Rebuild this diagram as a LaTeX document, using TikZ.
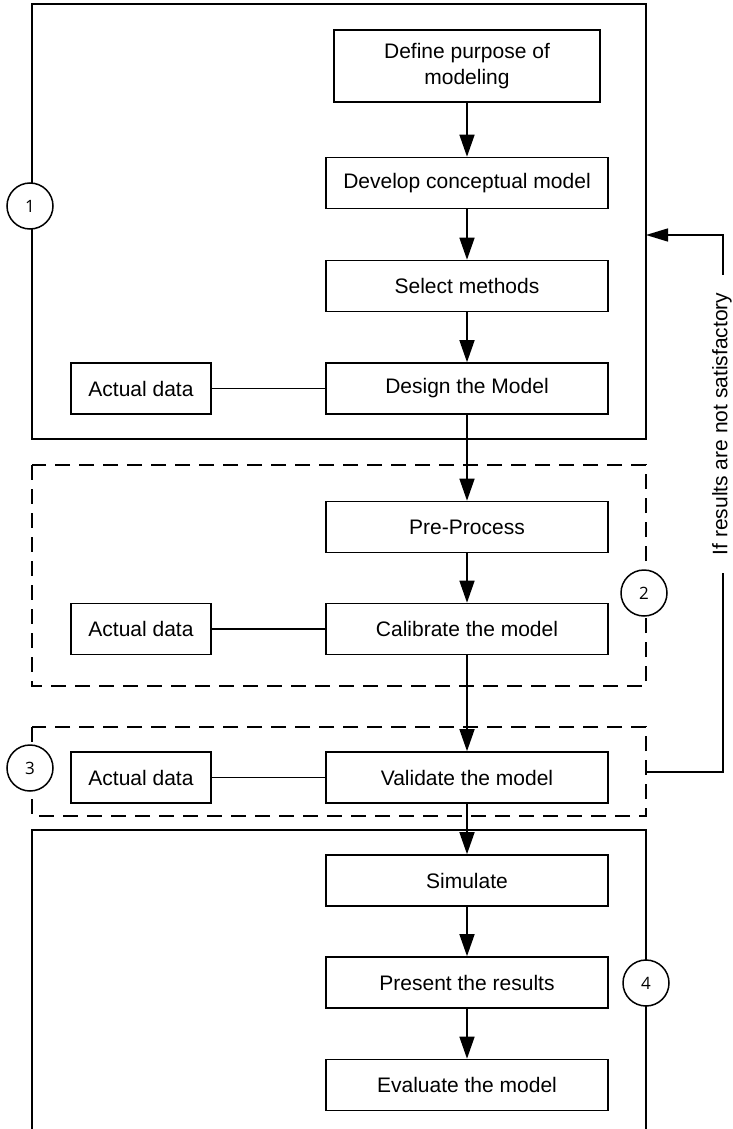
\documentclass[tikz,border=0pt]{standalone}
\usepackage{fontspec}
\setmainfont{Liberation Sans}
\newfontfamily\numfont{Open Sans}
\usetikzlibrary{arrows.meta}
\begin{document}
\begin{tikzpicture}[x=1pt,y=-1pt,
  stepbox/.style={draw,line width=1.6pt,minimum width=282pt,minimum height=51pt,inner sep=0pt,align=center,font=\fontsize{21}{26}\selectfont},
  databox/.style={stepbox,minimum width=140pt},
  region/.style={line width=1.6pt},
  dregion/.style={line width=1.6pt,dash pattern=on 15pt off 9pt},
  num/.style={draw,circle,fill=white,line width=1.5pt,minimum size=46pt,inner sep=0pt,font=\numfont\fontsize{17}{17}\selectfont},
  arr/.style={line width=1.5pt,-{Triangle[length=22pt,width=15pt]}},
  link/.style={line width=1.5pt}]
\useasboundingbox (0,0) rectangle (733,1129);

% region frames
\coordinate (r1nw) at (32,4);
\coordinate (r1se) at (646,439);
\draw[region] (r1nw) rectangle (r1se);
\coordinate (r2nw) at (32,465);
\coordinate (r2se) at (646,686);
\draw[dregion] (r2nw) rectangle (r2se);
\coordinate (r3nw) at (32,727);
\coordinate (r3se) at (646,816);
\draw[dregion] (r3nw) rectangle (r3se);
\coordinate (r4bl) at (32,1129);
\coordinate (r4tl) at (32,830);
\coordinate (r4tr) at (646,830);
\coordinate (r4br) at (646,1129);
\draw[region] (r4bl) -- (r4tl) -- (r4tr) -- (r4br);

% step boxes
\node[stepbox,minimum width=266pt,minimum height=72pt] (define) at (467,66) {Define purpose of\\modeling};
\node[stepbox] (develop) at (467,183) {Develop conceptual model};
\node[stepbox] (select) at (467,286) {Select methods};
\node[stepbox] (design) at (467,388.5) {Design the Model};
\node[stepbox] (pre) at (467,527) {Pre-Process};
\node[stepbox] (calib) at (467,629) {Calibrate the model};
\node[stepbox] (valid) at (467,777.5) {Validate the model};
\node[stepbox] (sim) at (467,880.5) {Simulate};
\node[stepbox] (present) at (467,982.5) {Present the results};
\node[stepbox] (eval) at (467,1085) {Evaluate the model};

\node[databox] (d1) at (141,388.5) {Actual data};
\node[databox] (d2) at (141,629) {Actual data};
\node[databox] (d3) at (141,777.5) {Actual data};

% connectors
\draw[arr] (define) -- (develop);
\draw[arr] (develop) -- (select);
\draw[arr] (select) -- (design);
\draw[arr] (design) -- (pre);
\draw[arr] (pre) -- (calib);
\draw[arr] (calib) -- (valid);
\draw[arr] (valid) -- (sim);
\draw[arr] (sim) -- (present);
\draw[arr] (present) -- (eval);
\draw[link] (d1) -- (design);
\draw[link] (d2) -- (calib);
\draw[link] (d3) -- (valid);

% feedback loop
\coordinate (fbstart) at (646,772);
\coordinate (fbbot) at (723,772);
\coordinate (fbtop) at (723,235);
\coordinate (fbend) at (646,235);
\draw[line width=1.5pt,-{Triangle[length=22pt,width=13pt]}] (fbstart) -- (fbbot) -- (fbtop) -- (fbend);
\node[fill=white,rotate=90,inner xsep=18pt,inner ysep=2pt,font=\fontsize{21}{21}\selectfont] (fblabel) at (722,424) {If results are not satisfactory};

% numbered circles
\node[num] (n1) at (30,206) {1};
\node[num] (n2) at (644,593) {2};
\node[num] (n3) at (30,768) {3};
\node[num] (n4) at (646,983) {4};
\end{tikzpicture}
\end{document}
